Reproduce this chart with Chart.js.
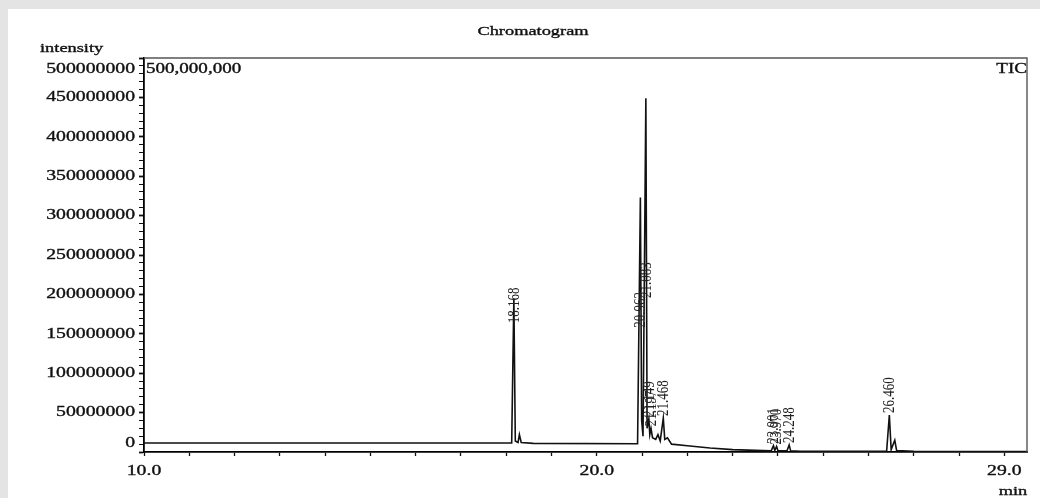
<!DOCTYPE html>
<html>
<head>
<meta charset="utf-8">
<script src="https://cdn.jsdelivr.net/npm/chart.js@4.4.1/dist/chart.umd.min.js"></script>
<style>
  html, body { margin: 0; padding: 0; background: #e4e4e4; }
  #wrap { position: relative; width: 1040px; height: 498px; }
</style>
</head>
<body>
<div id="wrap"><canvas id="chromChart" width="1040" height="498"></canvas></div>
<script>
// retention time (min) and TIC intensity
const rtMinutes = [10.0, 18.12, 18.168, 18.20, 18.26, 18.29, 18.33, 18.60, 20.90, 20.962, 20.99, 21.02, 21.083, 21.11,
  21.149, 21.17, 21.197, 21.23, 21.30, 21.35, 21.40, 21.468, 21.50, 21.56, 21.65, 22.0, 22.5, 23.0, 23.5, 23.85,
  23.901, 23.93, 23.970, 24.0, 24.2, 24.248, 24.28, 24.5, 26.40, 26.460, 26.50, 26.58, 26.62, 27.0, 29.5];
const intensity = [11.5e6, 11.5e6, 195e6, 14e6, 12e6, 22e6, 12e6, 11e6, 10.5e6, 323e6, 40e6, 20e6, 449e6, 30e6,
  42e6, 22e6, 30e6, 18e6, 16e6, 22e6, 14e6, 43e6, 16e6, 18e6, 10e6, 8e6, 5e6, 3e6, 2e6, 1.5e6,
  8e6, 2e6, 7e6, 1.5e6, 1.5e6, 9e6, 1.5e6, 1e6, 0.8e6, 47e6, 3e6, 15e6, 2e6, 0.8e6, 0.5e6];

// labelled peaks
const peakTimes = [18.168, 20.962, 21.083, 21.149, 21.197, 21.468, 23.901, 23.970, 24.248, 26.460];
const peakLabels = ["18.168", "20.962", "21.083", "21.149", "21.197", "21.468", "23.901", "23.970", "24.248", "26.460"];

// axis ticks
const yTickValues = [0, 50e6, 100e6, 150e6, 200e6, 250e6, 300e6, 350e6, 400e6, 450e6, 500e6];
const xTickLabels = { 10: "10.0", 20: "20.0", 29: "29.0" };

const SX = 1.36; // the source image is stretched sideways
const SERIF = '"Liberation Serif", "DejaVu Serif", serif';

function stretchText(ctx, str, x, y, align, base, size, color) {
  ctx.save();
  ctx.translate(x, y);
  ctx.scale(SX, 1);
  ctx.font = size + 'px ' + SERIF;
  ctx.fillStyle = color || '#111';
  ctx.strokeStyle = color || '#111';
  ctx.lineWidth = 0.35;
  ctx.textAlign = align;
  ctx.textBaseline = base;
  ctx.fillText(str, 0, 0);
  ctx.strokeText(str, 0, 0);
  ctx.restore();
}

const chromPlugin = {
  id: 'chrom',
  beforeDraw(chart) {
    const ctx = chart.ctx;
    ctx.save();
    ctx.fillStyle = '#e4e4e4';
    ctx.fillRect(0, 0, chart.width, chart.height);
    ctx.fillStyle = '#fff';
    ctx.fillRect(8, 9, chart.width - 8, chart.height - 9);
    ctx.restore();
  },
  afterDraw(chart) {
    const ctx = chart.ctx;
    const a = chart.chartArea;
    const xs = chart.scales.x, ys = chart.scales.y;

    // top and right frame
    ctx.save();
    ctx.strokeStyle = '#555';
    ctx.lineWidth = 1.4;
    ctx.beginPath();
    ctx.moveTo(a.left, a.top); ctx.lineTo(a.right, a.top); ctx.lineTo(a.right, a.bottom);
    ctx.stroke();
    ctx.restore();

    // texts
    stretchText(ctx, 'Chromatogram', 533, 31, 'center', 'middle', 13.5);
    stretchText(ctx, 'intensity', 40, 48, 'left', 'middle', 13.5);
    stretchText(ctx, '500,000,000', a.left + 2, a.top + 11, 'left', 'middle', 14);
    stretchText(ctx, 'TIC', a.right, a.top + 11, 'right', 'middle', 14);
    stretchText(ctx, 'min', 1013, 491, 'center', 'middle', 13.5);

    // y tick labels, edge labels kept inside the axis
    yTickValues.forEach(v => {
      let y = ys.getPixelForValue(v);
      y = Math.min(Math.max(y, a.top + 11), a.bottom - 9);
      stretchText(ctx, String(v), a.left - 9, y, 'right', 'middle', 14.5);
    });

    // x tick labels
    Object.keys(xTickLabels).forEach(k => {
      stretchText(ctx, xTickLabels[k], xs.getPixelForValue(Number(k)), a.bottom + 19, 'center', 'middle', 14.5);
    });

    // peak labels, written upward from the peak top (big peaks: lower)
    const anchors = { "18.168": 161e6, "20.962": 155e6, "21.083": 193e6 };
    ctx.save();
    ctx.font = '13px ' + SERIF;
    ctx.fillStyle = '#222';
    peakTimes.forEach((t, i) => {
      const idx = rtMinutes.indexOf(t);
      const h = anchors[peakLabels[i]] !== undefined ? anchors[peakLabels[i]] : intensity[idx];
      const px = xs.getPixelForValue(t);
      const py = ys.getPixelForValue(h) - 2;
      ctx.save();
      ctx.translate(px, py);
      ctx.scale(SX, 1);
      ctx.rotate(-Math.PI / 2);
      ctx.textAlign = 'left';
      ctx.textBaseline = 'middle';
      ctx.fillText(peakLabels[i], 0, 0);
      ctx.restore();
    });
    ctx.restore();
  }
};

new Chart(document.getElementById('chromChart'), {
  type: 'line',
  data: {
    datasets: [{
      data: rtMinutes.map((t, i) => ({ x: t, y: intensity[i] })),
      borderColor: '#111',
      borderWidth: 1.6,
      pointRadius: 0,
      tension: 0,
      fill: false
    }]
  },
  options: {
    responsive: false,
    animation: false,
    layout: { padding: { left: 0, top: 58, right: 13, bottom: 0 } },
    plugins: { legend: { display: false }, tooltip: { enabled: false }, title: { display: false } },
    scales: {
      x: {
        type: 'linear', min: 10, max: 29.5,
        afterFit(s) { s.height = 46; },
        ticks: { display: false, stepSize: 1, includeBounds: false, maxTicksLimit: 50 },
        grid: { drawOnChartArea: false, tickLength: 4, tickColor: '#111', tickWidth: 1.3 },
        border: { color: '#000', width: 1.8 }
      },
      y: {
        min: 0, max: 500e6,
        afterFit(s) { s.width = 144; },
        ticks: { display: false, stepSize: 10e6, maxTicksLimit: 100 },
        grid: {
          drawOnChartArea: false, tickLength: 5, tickColor: '#111',
          tickWidth: c => (c.tick && c.tick.value % 50e6 === 0 ? 1.8 : 1)
        },
        border: { color: '#000', width: 1.8 }
      }
    }
  },
  plugins: [chromPlugin]
});
</script>
</body>
</html>
